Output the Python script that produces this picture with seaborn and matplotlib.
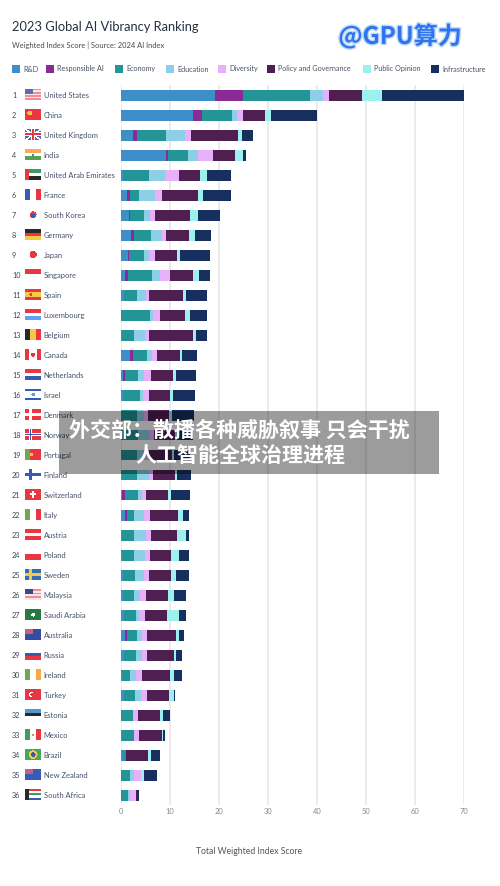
import numpy as np
import pandas as pd
import seaborn as sns
from matplotlib import pyplot as plt
from matplotlib import patheffects as pe
from matplotlib.colors import to_rgb
from matplotlib.offsetbox import AnnotationBbox, OffsetImage
from matplotlib.patches import Rectangle

sns.set_theme(style="white")
plt.rcParams["font.family"] = ["Lato", "DejaVu Sans"]

countries = [
    "United States", "China", "United Kingdom", "India", "United Arab Emirates", "France",
    "South Korea", "Germany", "Japan", "Singapore", "Spain", "Luxembourg",
    "Belgium", "Canada", "Netherlands", "Israel", "Denmark", "Norway",
    "Portugal", "Finland", "Switzerland", "Italy", "Austria", "Poland",
    "Sweden", "Malaysia", "Saudi Arabia", "Australia", "Russia", "Ireland",
    "Turkey", "Estonia", "Mexico", "Brazil", "New Zealand", "South Africa",
]
pillars = ["R&D", "Responsible AI", "Economy", "Education", "Diversity",
           "Policy and Governance", "Public Opinion", "Infrastructure"]
pillar_colors = ["#3d8ec9", "#8a2a96", "#239596", "#8ccfe6", "#e8b0fa", "#4f1f52", "#9cf0ee", "#172f5f"]

rnd = [19.3, 14.8, 2.45, 9.25, 0.5, 1.35, 1.75, 2.15, 1.55, 0.95, 0.7, 0.05,
       0.3, 1.9, 0.55, 0.55, 0.3, 0.3, 0.3, 0.35, 0.4, 0.95, 0.4, 0.4,
       0.55, 0.55, 0.7, 1.0, 0.75, 0.35, 0.7, 0.1, 0.25, 0.55, 0.15, 0.15]
responsible = [5.7, 1.9, 1.0, 0.45, 0.05, 0.55, 0.1, 0.65, 0.1, 0.6, 0.05, 0.0,
               0.05, 0.65, 0.45, 0.05, 0.0, 0.0, 0.0, 0.0, 0.6, 0.45, 0.0, 0.0,
               0.0, 0.0, 0.05, 0.35, 0.0, 0.0, 0.0, 0.0, 0.0, 0.05, 0.0, 0.0]
economy = [13.6, 6.1, 5.9, 4.15, 5.3, 1.9, 2.9, 3.5, 3.05, 4.95, 2.6, 6.0,
           2.4, 2.8, 2.5, 3.45, 3.05, 3.2, 3.0, 3.0, 2.5, 1.35, 2.3, 2.3,
           2.45, 2.25, 2.4, 2.1, 2.45, 1.65, 2.3, 2.4, 2.4, 0.5, 1.8, 1.35]
education = [2.7, 1.0, 3.7, 2.0, 3.2, 3.3, 1.35, 2.1, 1.2, 1.5, 1.9, 0.6,
             2.3, 1.0, 1.35, 0.6, 1.5, 2.3, 1.5, 2.4, 0.8, 2.1, 2.4, 2.2,
             1.7, 1.2, 0.7, 1.0, 1.15, 1.15, 1.2, 0.0, 0.0, 0.1, 0.75, 0.35]
diversity = [1.1, 1.15, 1.35, 3.0, 2.85, 1.4, 1.0, 0.95, 1.1, 2.05, 0.5, 1.3,
             0.7, 1.0, 1.4, 1.15, 0.7, 1.0, 1.0, 0.9, 0.95, 1.1, 1.15, 1.1,
             1.1, 1.15, 1.2, 1.0, 1.0, 1.15, 1.1, 1.15, 1.15, 0.0, 1.55, 1.4]
policy = [6.8, 4.4, 9.6, 4.5, 4.4, 7.3, 7.0, 4.7, 4.6, 4.75, 6.9, 5.2,
          9.0, 4.7, 4.4, 4.3, 4.4, 4.4, 4.6, 4.5, 4.5, 5.7, 5.3, 4.35,
          4.5, 4.6, 4.5, 5.85, 5.5, 5.8, 4.5, 4.5, 4.6, 4.5, 0.0, 0.1]
public = [4.1, 1.35, 0.75, 1.55, 1.35, 0.95, 1.7, 1.2, 0.6, 1.1, 0.7, 1.0,
          0.6, 0.45, 0.7, 0.6, 0.6, 0.3, 0.5, 0.4, 0.55, 1.0, 1.7, 1.5,
          1.1, 1.15, 2.3, 0.55, 0.55, 0.8, 1.1, 0.5, 0.2, 0.6, 0.45, 0.0]
infrastructure = [16.8, 9.4, 2.25, 0.6, 4.8, 5.7, 4.5, 3.1, 6.1, 2.25, 4.35, 3.5,
                  2.25, 3.1, 3.95, 4.4, 4.5, 3.3, 3.2, 2.8, 3.9, 1.35, 0.75, 2.05,
                  2.5, 2.5, 1.5, 1.1, 1.2, 1.7, 0.3, 1.35, 0.55, 1.75, 2.8, 0.35]
pillar_values = [rnd, responsible, economy, education, diversity, policy, public, infrastructure]
x_ticks = [0, 10, 20, 30, 40, 50, 60, 70]

# stripes, direction, then optional extras for the little flags
R, W, B, G, Y, K = "#e8202c", "#ffffff", "#1f4aa8", "#2f8f4e", "#f4c430", "#111111"
flags = {
    "United States": ("h", ["#f4808a", "#fbe3e5"] * 3 + ["#f4808a"], {"canton": "#4a5fa8"}),
    "China": ("h", [R], {"disc": (Y, 0.28, 0.35, 0.2)}),
    "United Kingdom": ("h", ["#3d5ba8"], {"saltire": W, "plus_wide": (W, R)}),
    "India": ("h", ["#f7a04b", W, "#3f9a3f"], {"disc": ("#5060b0", 0.5, 0.5, 0.1)}),
    "United Arab Emirates": ("h", ["#2f8f4e", W, K], {"hoist": R}),
    "France": ("v", [B, W, R], {}),
    "South Korea": ("h", [W], {"disc": (R, 0.5, 0.5, 0.28), "disc2": (B, 0.5, 0.6, 0.18)}),
    "Germany": ("h", [K, R, Y], {}),
    "Japan": ("h", [W], {"disc": (R, 0.5, 0.5, 0.3)}),
    "Singapore": ("h", [R, W], {}),
    "Spain": ("h", [R, Y, Y, R], {"disc": (R, 0.35, 0.5, 0.12)}),
    "Luxembourg": ("h", [R, W, "#4f96f0"], {}),
    "Belgium": ("v", [K, Y, R], {}),
    "Canada": ("v", [R, W, W, R], {"disc": (R, 0.5, 0.5, 0.18)}),
    "Netherlands": ("h", [R, W, B], {}),
    "Israel": ("h", [B, W, W, W, B], {"disc": ("#6a86cc", 0.5, 0.5, 0.15)}),
    "Denmark": ("h", [R], {"cross": (W, W)}),
    "Norway": ("h", [R], {"cross": (W, B)}),
    "Portugal": ("v", ["#5fa03c", R, R], {"disc": (Y, 0.4, 0.5, 0.14)}),
    "Finland": ("h", [W], {"cross": (B, B)}),
    "Switzerland": ("h", [R], {"plus": W}),
    "Italy": ("v", ["#5fa03c", W, R], {}),
    "Austria": ("h", [R, W, R], {}),
    "Poland": ("h", [W, R], {}),
    "Sweden": ("h", ["#1f5fa8"], {"cross": (Y, Y)}),
    "Malaysia": ("h", ["#f4808a", "#fbe3e5"] * 3, {"canton": "#1f3a78"}),
    "Saudi Arabia": ("h", ["#0f6b2e"], {"disc": (W, 0.5, 0.5, 0.16)}),
    "Australia": ("h", ["#1f3a98"], {"canton": "#c05070"}),
    "Russia": ("h", [W, B, R], {}),
    "Ireland": ("v", ["#5fa03c", W, "#f7a030"], {}),
    "Turkey": ("h", [R], {"disc": (W, 0.4, 0.5, 0.22), "disc2": (R, 0.45, 0.5, 0.16)}),
    "Estonia": ("h", ["#3d8ed0", K, W], {}),
    "Mexico": ("v", [G, W, R], {"disc": ("#b09060", 0.5, 0.5, 0.1)}),
    "Brazil": ("h", ["#2fa04a"], {"disc": (Y, 0.5, 0.5, 0.36), "disc2": ("#2a4a98", 0.5, 0.5, 0.2)}),
    "New Zealand": ("h", ["#1f4ab0"], {"canton": "#c05070"}),
    "South Africa": ("h", [R, W, G, W, B], {"hoist": K}),
}


def make_flag(spec, w=48, h=33):
    direction, stripes, extras = spec
    img = np.ones((h, w, 3))
    n = len(stripes)
    for i, c in enumerate(stripes):
        if direction == "h":
            img[i * h // n:(i + 1) * h // n] = to_rgb(c)
        else:
            img[:, i * w // n:(i + 1) * w // n] = to_rgb(c)
    yy, xx = np.mgrid[:h, :w]
    if "saltire" in extras:
        diag = np.abs(xx * h / w - yy) < 3
        anti = np.abs(xx * h / w + yy - h) < 3
        img[diag | anti] = to_rgb(extras["saltire"])
    if "plus_wide" in extras:
        outer, inner = extras["plus_wide"]
        img[h // 2 - 6:h // 2 + 6] = to_rgb(outer)
        img[:, w // 2 - 6:w // 2 + 6] = to_rgb(outer)
        img[h // 2 - 3:h // 2 + 3] = to_rgb(inner)
        img[:, w // 2 - 3:w // 2 + 3] = to_rgb(inner)
    if "canton" in extras:
        img[:h // 2, :w // 2] = to_rgb(extras["canton"])
    if "hoist" in extras:
        img[:, :w // 4] = to_rgb(extras["hoist"])
    if "cross" in extras:
        outer, inner = extras["cross"]
        cx = w // 3
        img[h // 2 - 5:h // 2 + 5] = to_rgb(outer)
        img[:, cx - 5:cx + 5] = to_rgb(outer)
        img[h // 2 - 2:h // 2 + 2] = to_rgb(inner)
        img[:, cx - 2:cx + 2] = to_rgb(inner)
    if "plus" in extras:
        img[h // 2 - 3:h // 2 + 3, w // 2 - 10:w // 2 + 10] = to_rgb(extras["plus"])
        img[h // 2 - 10:h // 2 + 10, w // 2 - 3:w // 2 + 3] = to_rgb(extras["plus"])
    for key in ("disc", "disc2"):
        if key in extras:
            c, fx, fy, fr = extras[key]
            img[np.hypot(xx - fx * w, yy - fy * h) < fr * h * 1.1] = to_rgb(c)
    return img


df = pd.DataFrame(dict(zip(pillars, pillar_values)), index=countries)

fig = plt.figure(figsize=(5, 8.86), dpi=100)
ax = fig.add_axes([120.5 / 500, 1 - 805 / 886, (464 - 120.5) / 500, 720 / 886])

ax.grid(axis="x", color="#e6e6e6", lw=1.1)
ax.set_axisbelow(True)

left = np.zeros(len(countries))
for name, color in zip(pillars, pillar_colors):
    sns.barplot(x=df[name].values, y=countries, color=color, saturation=1, width=0.55,
                left=left, orient="h", errorbar=None, ax=ax, linewidth=0)
    left += df[name].values

ax.set_xlim(0, 70)
ax.set_ylim(35.5, -0.5)
sns.despine(ax=ax, left=True, bottom=True)
ax.set_xticks(x_ticks)
ax.tick_params(axis="x", length=0, labelsize=5.4, labelcolor="#8a8a8a", pad=2.5)
ax.tick_params(axis="y", length=0, labelsize=5.45, labelcolor="#44506a", pad=55.4)
for label in ax.get_yticklabels():
    label.set_ha("left")
ax.set_xlabel("Total Weighted Index Score", fontsize=6.2, color="#555555")
ax.xaxis.set_label_coords((249 - 120.5) / 343.5, -41.5 / 720)

for i, name in enumerate(countries):
    ax.annotate(str(i + 1), xy=(0, i), xycoords=("axes fraction", "data"), xytext=(-108.5, 0),
                textcoords="offset pixels", ha="left", va="center", fontsize=5.2, color="#3a4558")
    box = OffsetImage(make_flag(flags[name]), zoom=1 / 3, dpi_cor=False, alpha=0.9)
    ax.add_artist(AnnotationBbox(box, (0, i), xycoords=("axes fraction", "data"), xybox=(-87.5, 0),
                                 boxcoords="offset pixels", frameon=False, pad=0))

fig.text(12 / 500, 1 - 27 / 886, "2023 Global AI Vibrancy Ranking", fontsize=9.25, color="#27303f",
         va="center", ha="left")
fig.text(12 / 500, 1 - 45 / 886, "Weighted Index Score | Source: 2024 AI Index", fontsize=5.4,
         color="#4a4a4a", va="center", ha="left")

# legend row by hand, fig.legend lets the labels drift up and down
legend_x = [12, 46, 115, 166, 218, 267, 363, 431]
for x, name, color in zip(legend_x, pillars, pillar_colors):
    fig.add_artist(Rectangle((x / 500, 1 - 73 / 886), 7.5 / 500, 7.5 / 886, transform=fig.transFigure,
                             facecolor=color, edgecolor="none"))
    fig.text((x + 11) / 500, 1 - 71.5 / 886, name, fontsize=5.25, color="#4a5568", ha="left", va="baseline")

cjk = ["Noto Sans CJK SC", "DejaVu Sans"]
fig.text(400 / 500, 1 - 36 / 886, "@GPU算力", family=cjk, fontsize=17.3, fontweight="bold",
         color="#2f74ee", ha="center", va="center",
         path_effects=[pe.withStroke(linewidth=2, foreground="#bcd8fa")])

fig.add_artist(Rectangle((59 / 500, 1 - 474 / 886), 380 / 500, 63 / 886, transform=fig.transFigure,
                         facecolor="black", alpha=0.39, edgecolor="none"))
fig.text(239.5 / 500, 1 - 430 / 886, "外交部：散播各种威胁叙事 只会干扰", family=cjk, fontsize=15.1,
         fontweight="bold", color="white", ha="center", va="center")
fig.text(240.5 / 500, 1 - 455 / 886, "人工智能全球治理进程", family=cjk, fontsize=15.1,
         fontweight="bold", color="white", ha="center", va="center")

fig.savefig("out.png", dpi=100)
